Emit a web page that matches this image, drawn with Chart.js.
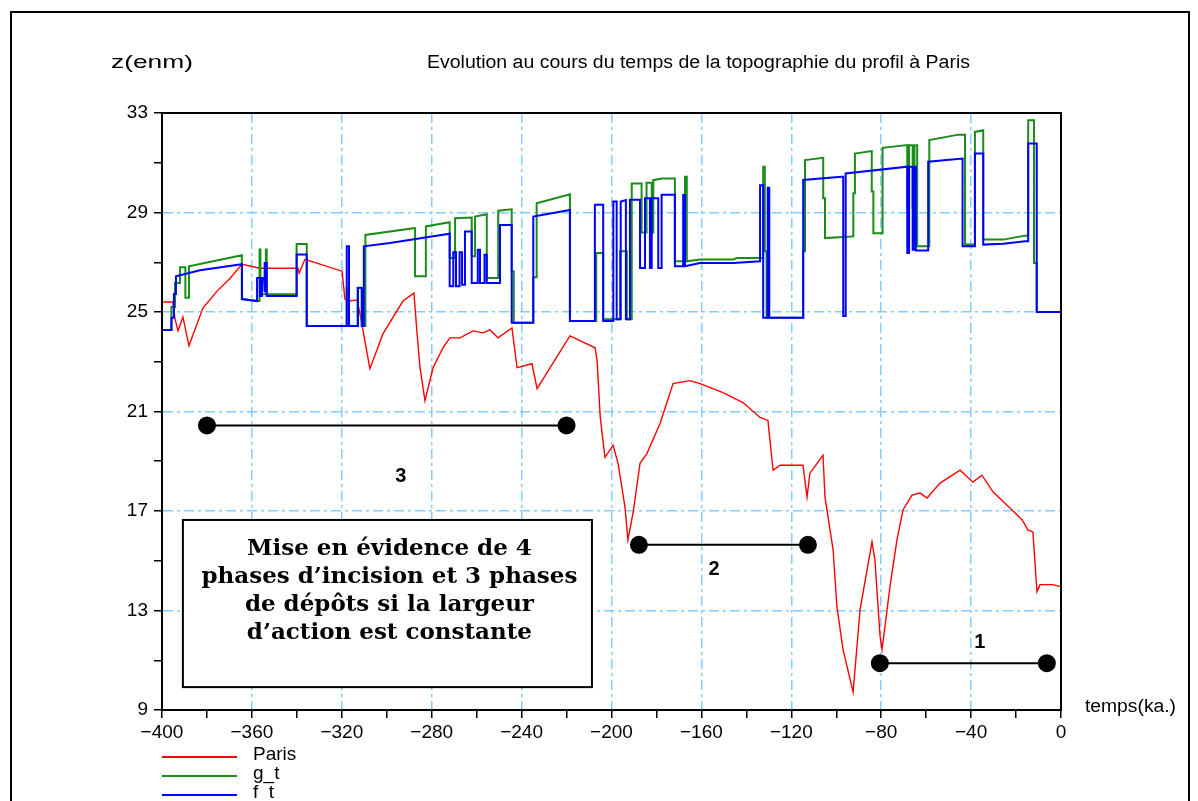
<!DOCTYPE html>
<html>
<head>
<meta charset="utf-8">
<script src="https://cdn.jsdelivr.net/npm/chart.js@4.4.1/dist/chart.umd.min.js"></script>
<style>
  html, body { margin: 0; padding: 0; background: #fff; overflow: hidden; }
  #wrap { position: relative; width: 1198px; height: 801px; }
  #frame { position: absolute; left: 10px; top: 11px; width: 1176px; height: 900px; border: 2px solid #000; }
  canvas { position: absolute; left: 0; top: 0; }
</style>
</head>
<body>
<div id="wrap">
  <div id="frame"></div>
  <canvas id="chart" width="1198" height="801"></canvas>
</div>
<script>
// time in ka, elevation z in m
const paris = [
  [-400, 25.4], [-395.2, 25.4], [-394.2, 24.72], [-392.9, 24.24], [-390.7, 24.8], [-388.0, 23.64],
  [-381.8, 25.16], [-375.5, 25.84], [-369.7, 26.36], [-364.4, 26.92], [-356.4, 26.76], [-339.5, 26.76],
  [-339.0, 26.56], [-336.4, 27.12], [-319.9, 26.64], [-318.6, 25.52], [-317.2, 25.44], [-313.2, 25.48],
  [-311.9, 24.92], [-307.5, 22.72], [-301.7, 24.12], [-292.8, 25.44], [-287.9, 25.76], [-286.5, 24.12],
  [-285.2, 22.76], [-283.0, 21.44], [-279.4, 22.76], [-275.0, 23.56], [-271.9, 23.96], [-267.4, 23.96],
  [-261.6, 24.24], [-257.2, 24.16], [-254.1, 24.28], [-250.5, 23.96], [-244.3, 24.36], [-242.0, 22.76],
  [-235.4, 22.92], [-233.1, 21.92], [-218.5, 24.04], [-207.3, 23.56], [-206.4, 23.04], [-205.0, 20.76],
  [-202.9, 19.16], [-199.3, 19.64], [-197.1, 18.92], [-194.0, 17.16], [-192.7, 15.84], [-190.4, 16.92],
  [-187.3, 18.92], [-184.2, 19.32], [-178.4, 20.52], [-172.6, 22.12], [-165.1, 22.24], [-160.6, 22.12],
  [-150.4, 21.76], [-141.5, 21.36], [-133.9, 20.76], [-130.4, 20.64], [-128.1, 18.64], [-125.0, 18.84],
  [-114.8, 18.84], [-113.0, 17.56], [-111.7, 18.52], [-105.9, 19.24], [-105.0, 17.56], [-101.4, 15.44],
  [-99.7, 13.16], [-97.0, 11.44], [-92.5, 9.72], [-89.4, 13.04], [-84.1, 15.76], [-82.8, 15.04],
  [-80.5, 11.96], [-79.6, 11.44], [-76.1, 13.96], [-73.0, 15.84], [-70.3, 17.04], [-66.3, 17.64],
  [-62.7, 17.72], [-59.6, 17.52], [-53.8, 18.12], [-44.9, 18.64], [-39.2, 18.16], [-35.2, 18.44],
  [-30.2, 17.76], [-22.7, 17.12], [-17.3, 16.64], [-14.7, 16.24], [-12.5, 16.16], [-10.7, 13.76],
  [-9.3, 14.04], [-4.0, 14.04], [0, 13.96]
];

const gT = [
  [-400, 24.28], [-395.8, 24.28], [-395.8, 25.2], [-394.2, 25.2], [-394.2, 26.17], [-392.0, 26.17],
  [-392.0, 26.8], [-389.6, 26.8], [-389.6, 25.57], [-388.0, 25.57], [-388.0, 26.84], [-364.5, 27.28],
  [-364.5, 25.52], [-357.7, 25.44], [-356.6, 25.44], [-356.6, 27.51], [-356.2, 27.51], [-356.2, 25.71],
  [-353.8, 25.71], [-353.8, 27.51], [-353.4, 27.51], [-353.4, 25.71], [-340.1, 25.71], [-340.1, 27.73],
  [-335.6, 27.73], [-335.6, 24.44], [-317.8, 24.44], [-317.8, 25.97], [-316.8, 25.97], [-316.8, 24.44],
  [-313.0, 24.44], [-313.0, 25.97], [-311.2, 25.97], [-311.2, 24.44], [-309.5, 24.44], [-309.5, 28.1],
  [-288.2, 28.37], [-287.4, 28.37], [-287.4, 26.44], [-282.6, 26.44], [-282.6, 28.44], [-272.0, 28.61],
  [-272.0, 27.17], [-269.6, 27.17], [-269.6, 28.77], [-262.2, 28.8], [-262.2, 27.24], [-260.7, 27.24],
  [-260.7, 28.84], [-255.5, 28.93], [-255.5, 26.37], [-250.4, 26.37], [-250.4, 29.07], [-244.4, 29.13],
  [-244.4, 26.64], [-243.5, 26.64], [-243.5, 24.57], [-234.8, 24.57], [-234.8, 26.4], [-233.3, 26.4],
  [-233.3, 29.37], [-218.5, 29.73], [-218.5, 24.64], [-206.8, 24.64], [-206.8, 27.37], [-203.7, 27.37],
  [-203.7, 24.71], [-196.2, 24.71], [-196.2, 27.44], [-193.2, 27.44], [-193.2, 24.71], [-191.0, 24.71],
  [-191.0, 30.17], [-186.6, 30.17], [-186.6, 28.2], [-184.4, 28.2], [-184.4, 30.2], [-182.1, 30.2],
  [-182.1, 28.2], [-181.4, 28.2], [-181.4, 30.3], [-177.7, 30.37], [-171.8, 30.37], [-171.8, 27.04],
  [-167.3, 27.04], [-167.3, 30.44], [-166.5, 30.44], [-166.5, 27.04], [-160.6, 27.11], [-145.8, 27.11],
  [-144.3, 27.17], [-132.5, 27.17], [-132.5, 30.84], [-131.8, 30.84], [-131.8, 27.44], [-131.0, 27.44],
  [-131.0, 24.77], [-114.7, 24.77], [-114.7, 27.44], [-113.9, 27.44], [-113.9, 31.11], [-105.8, 31.2],
  [-105.8, 29.57], [-105.0, 29.57], [-105.0, 27.97], [-92.4, 28.04], [-92.4, 29.77], [-91.7, 29.77],
  [-91.7, 31.37], [-84.2, 31.47], [-84.2, 29.84], [-83.5, 29.84], [-83.5, 28.17], [-79.4, 28.17],
  [-79.4, 31.6], [-68.4, 31.71], [-68.4, 29.17], [-67.6, 29.17], [-67.6, 31.7], [-66.0, 31.7],
  [-66.0, 29.2], [-65.2, 29.2], [-65.2, 31.7], [-64.0, 31.7], [-64.0, 27.64], [-58.6, 27.64],
  [-58.6, 31.91], [-45.6, 32.13], [-42.7, 32.13], [-42.7, 27.71], [-38.3, 27.71], [-38.3, 32.24],
  [-34.6, 32.31], [-34.6, 27.91], [-25.7, 27.91], [-16.0, 28.07], [-14.6, 28.07], [-14.6, 32.71],
  [-12.0, 32.71], [-12.0, 26.97], [-10.8, 26.97], [-10.8, 25.0], [0, 25.0]
];

const fT = [
  [-400, 24.28], [-395.8, 24.28], [-395.8, 24.77], [-394.7, 24.77], [-394.7, 25.72], [-393.8, 25.72],
  [-393.8, 26.44], [-383.1, 26.68], [-364.4, 26.92], [-364.4, 25.52], [-357.7, 25.44], [-357.7, 26.37],
  [-356.4, 26.37], [-356.4, 25.64], [-355.5, 25.64], [-355.5, 26.37], [-354.6, 26.37], [-354.6, 25.8],
  [-354.2, 25.8], [-354.2, 26.97], [-353.4, 26.97], [-353.4, 25.64], [-340.1, 25.64], [-340.1, 27.31],
  [-335.6, 27.31], [-335.6, 24.44], [-317.8, 24.44], [-317.8, 27.64], [-316.8, 27.64], [-316.8, 24.44],
  [-312.8, 24.44], [-312.8, 25.96], [-311.0, 25.96], [-311.0, 24.44], [-310.2, 24.44], [-310.2, 27.64],
  [-298.6, 27.77], [-272.0, 28.15], [-272.0, 26.04], [-270.4, 26.04], [-270.4, 27.4], [-269.2, 27.4],
  [-269.2, 26.04], [-267.6, 26.04], [-267.6, 27.4], [-266.5, 27.4], [-266.5, 26.1], [-265.2, 26.1],
  [-265.2, 28.24], [-262.2, 28.24], [-262.2, 26.17], [-259.5, 26.17], [-259.5, 27.5], [-258.5, 27.5],
  [-258.5, 26.17], [-256.5, 26.17], [-256.5, 27.3], [-255.5, 27.3], [-255.5, 26.17], [-249.6, 26.17],
  [-249.6, 28.5], [-244.4, 28.5], [-244.4, 24.57], [-234.8, 24.57], [-234.8, 28.84], [-218.5, 29.1],
  [-218.5, 24.64], [-207.4, 24.64], [-207.4, 29.31], [-203.7, 29.31], [-203.7, 24.64], [-199.2, 24.64],
  [-199.2, 29.44], [-197.7, 29.44], [-197.7, 24.71], [-195.9, 24.71], [-195.9, 29.44], [-193.6, 29.5],
  [-193.6, 24.71], [-191.8, 24.71], [-191.8, 29.51], [-187.3, 29.51], [-187.3, 26.77], [-185.1, 26.77],
  [-185.1, 29.57], [-182.9, 29.57], [-182.9, 26.77], [-182.1, 26.77], [-182.1, 29.57], [-179.2, 29.57],
  [-179.2, 26.77], [-177.7, 26.77], [-177.7, 29.71], [-171.8, 29.71], [-171.8, 26.84], [-168.1, 26.84],
  [-168.1, 29.7], [-167.3, 29.7], [-167.3, 26.84], [-160.6, 26.97], [-145.8, 26.97], [-133.9, 27.04],
  [-133.9, 30.1], [-132.5, 30.1], [-132.5, 24.77], [-130.5, 24.77], [-130.5, 30.0], [-129.8, 30.0],
  [-129.8, 24.77], [-114.7, 24.77], [-114.7, 30.31], [-97.6, 30.44], [-96.9, 30.44], [-96.9, 24.84],
  [-95.8, 24.84], [-95.8, 30.57], [-68.4, 30.84], [-68.4, 27.37], [-67.6, 27.37], [-67.6, 30.84],
  [-66.0, 30.84], [-66.0, 27.5], [-65.2, 27.5], [-65.2, 30.84], [-64.6, 30.84], [-64.6, 27.47],
  [-59.1, 27.47], [-59.1, 31.04], [-43.8, 31.17], [-43.8, 27.64], [-38.3, 27.64], [-38.3, 31.37],
  [-34.6, 31.37], [-34.6, 27.71], [-25.7, 27.74], [-16.0, 27.84], [-14.6, 27.84], [-14.6, 31.77],
  [-10.8, 31.77], [-10.8, 25.0], [0, 25.0]
];

// incision / deposit phases drawn as segments
const phaseNames = ['3', '2', '1'];
const phaseStart = [-380, -187.8, -80.6];
const phaseEnd = [-220, -112.6, -6.3];
const phaseLevel = [20.44, 15.64, 10.88];
const phaseLabelT = [-293.7, -154.4, -36.1];
const phaseLabelZ = [18.4, 14.64, 11.72];

const noteLines = ['Mise en évidence de 4', 'phases d’incision et 3 phases', 'de dépôts si la largeur', 'd’action est constante'];
const noteT = [-390.7, -208.7];
const noteZ = [16.64, 9.92];

const xTicks = [-400, -380, -360, -340, -320, -300, -280, -260, -240, -220, -200, -180, -160, -140, -120, -100, -80, -60, -40, -20, 0];
const xLabelled = [-400, -360, -320, -280, -240, -200, -160, -120, -80, -40, 0];
const yTicks = [9, 11, 13, 15, 17, 19, 21, 23, 25, 27, 29, 31, 33];
const yLabelled = [9, 13, 17, 21, 25, 29, 33];

const gridBlue = '#86ccff';
const tickFont = { family: 'Liberation Sans', size: 19 };
const fmt = v => (v < 0 ? '\u2212' + Math.abs(v) : String(v));
const toXY = arr => arr.map(([t, z]) => ({ x: t, y: z }));

// draw text stretched horizontally to a given width (the scilab font is wide)
function fitText(ctx, s, x, y, w) {
  const m = ctx.measureText(s).width;
  ctx.save();
  ctx.translate(x, y);
  ctx.scale(w / m, 1);
  ctx.fillText(s, 0, 0);
  ctx.restore();
}

const decor = {
  id: 'decor',
  afterDatasetsDraw(chart) {
    const { ctx, scales: { x, y } } = chart;
    ctx.save();
    // note box
    const bx0 = x.getPixelForValue(noteT[0]), bx1 = x.getPixelForValue(noteT[1]);
    const by0 = y.getPixelForValue(noteZ[0]), by1 = y.getPixelForValue(noteZ[1]);
    ctx.fillStyle = '#fff';
    ctx.fillRect(bx0, by0, bx1 - bx0, by1 - by0);
    ctx.strokeStyle = '#000';
    ctx.lineWidth = 2;
    ctx.strokeRect(bx0, by0, bx1 - bx0, by1 - by0);
    ctx.fillStyle = '#000';
    ctx.font = 'bold 23px "DejaVu Serif"';
    ctx.textAlign = 'center';
    ctx.textBaseline = 'middle';
    const cx = (bx0 + bx1) / 2 + 2;
    noteLines.forEach((s, i) => ctx.fillText(s, cx, by0 + 29 + i * 28));
    // phase numbers
    ctx.font = 'bold 20px "Liberation Sans"';
    phaseNames.forEach((s, i) => ctx.fillText(s, x.getPixelForValue(phaseLabelT[i]), y.getPixelForValue(phaseLabelZ[i])));
    ctx.restore();
  },
  afterDraw(chart) {
    const { ctx, chartArea: a } = chart;
    ctx.save();
    ctx.strokeStyle = '#000';
    ctx.lineWidth = 2;
    ctx.strokeRect(a.left, a.top, a.right - a.left, a.bottom - a.top);
    ctx.fillStyle = '#000';
    ctx.textBaseline = 'middle';
    ctx.textAlign = 'left';
    ctx.font = '18px "Liberation Sans"';
    fitText(ctx, 'z(enm)', 111, 63, 82);
    fitText(ctx, 'temps(ka.)', 1085, 707, 91);
    ctx.font = '18px "Liberation Sans"';
    fitText(ctx, 'Evolution au cours du temps de la topographie du profil à Paris', 427, 63, 543);
    // legend
    chart.data.datasets.slice(0, 3).forEach((ds, i) => {
      const ly = 757 + i * 19;
      ctx.strokeStyle = ds.borderColor;
      ctx.lineWidth = 2;
      ctx.beginPath();
      ctx.moveTo(162, ly);
      ctx.lineTo(237, ly);
      ctx.stroke();
      ctx.font = '19px "Liberation Sans"';
      ctx.fillText(ds.label, 253, ly - 2);
    });
    ctx.restore();
  }
};

const lineSet = (label, arr, color, width, order) => ({
  label, data: toXY(arr), borderColor: color, borderWidth: width,
  showLine: true, pointRadius: 0, order
});

new Chart(document.getElementById('chart'), {
  type: 'scatter',
  data: {
    datasets: [
      lineSet('Paris', paris, '#ff0000', 1.4, 3),
      lineSet('g_t', gT, '#1a8c1a', 2, 2),
      lineSet('f_t', fT, '#0000ff', 2, 1),
      ...phaseNames.map((n, i) => ({
        label: 'phase ' + n,
        data: [{ x: phaseStart[i], y: phaseLevel[i] }, { x: phaseEnd[i], y: phaseLevel[i] }],
        borderColor: '#000', borderWidth: 2, showLine: true,
        pointRadius: 8, pointBackgroundColor: '#000', pointBorderColor: '#000', order: 0
      }))
    ]
  },
  options: {
    responsive: false,
    animation: false,
    layout: { padding: { left: 0, top: 113, right: 137, bottom: 51 } },
    plugins: { legend: { display: false }, tooltip: { enabled: false } },
    scales: {
      x: {
        type: 'linear', min: -400, max: 0,
        afterBuildTicks: s => { s.ticks = xTicks.map(v => ({ value: v })); },
        afterFit: s => { s.height = 40; },
        ticks: {
          autoSkip: false, maxRotation: 0, color: '#000', font: tickFont, padding: 3,
          callback: v => (xLabelled.includes(v) ? fmt(v) : '')
        },
        grid: {
          color: c => (c.tick && xLabelled.includes(c.tick.value) ? gridBlue : 'transparent'),
          lineWidth: 1.5, tickColor: '#000', tickLength: 8, tickWidth: 1.5
        },
        border: { display: true, color: '#000', width: 2, dash: [10, 4, 3, 4] }
      },
      y: {
        type: 'linear', min: 9, max: 33,
        afterBuildTicks: s => { s.ticks = yTicks.map(v => ({ value: v })); },
        afterFit: s => { s.width = 162; },
        ticks: {
          autoSkip: false, color: '#000', font: tickFont, padding: 6,
          callback: v => (yLabelled.includes(v) ? fmt(v) : '')
        },
        grid: {
          color: c => (c.tick && yLabelled.includes(c.tick.value) ? gridBlue : 'transparent'),
          lineWidth: 1.5, tickColor: '#000', tickLength: 8, tickWidth: 1.5
        },
        border: { display: true, color: '#000', width: 2, dash: [10, 4, 3, 4] }
      }
    }
  },
  plugins: [decor]
});
</script>
</body>
</html>
